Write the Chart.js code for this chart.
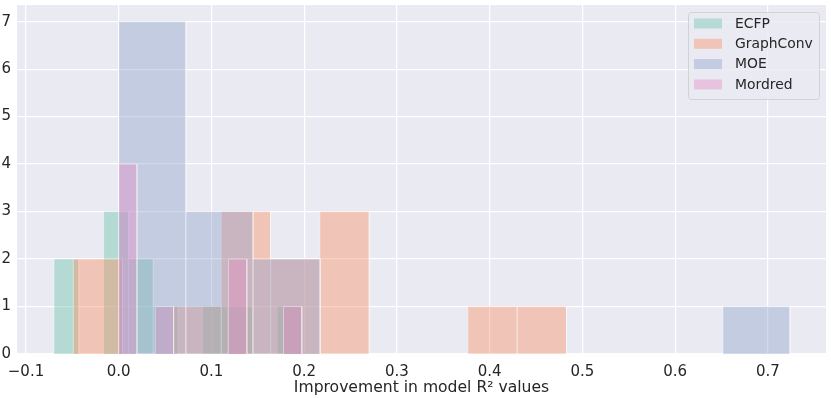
<!DOCTYPE html>
<html>
<head>
<meta charset="utf-8">
<script src="https://cdn.jsdelivr.net/npm/chart.js@4.4.1/dist/chart.umd.min.js"></script>
<style>
  html, body { margin: 0; padding: 0; background: #ffffff; }
  #wrap { width: 831px; height: 398px; }
</style>
</head>
<body>
<div id="wrap"><canvas id="hist" width="831" height="398"></canvas></div>
<script>
// series names
var seriesNames = ['ECFP', 'GraphConv', 'MOE', 'Mordred'];

// bin edges (10 bins each)
var ecfpEdges = [-0.0698, -0.0430, -0.0163, 0.0105, 0.0372, 0.0640, 0.0907, 0.1175, 0.1442, 0.1710, 0.1977];
var graphConvEdges = [-0.0490, 0.0042, 0.0574, 0.1106, 0.1638, 0.2169, 0.2701, 0.3233, 0.3765, 0.4297, 0.4828];
var moeEdges = [0.0000, 0.0724, 0.1448, 0.2172, 0.2896, 0.3620, 0.4344, 0.5068, 0.5792, 0.6516, 0.7238];
var mordredEdges = [0.0000, 0.0197, 0.0395, 0.0592, 0.0790, 0.0987, 0.1184, 0.1382, 0.1579, 0.1777, 0.1974];

// counts per bin
var ecfpCounts = [2, 0, 3, 2, 1, 0, 1, 1, 0, 1];
var graphConvCounts = [2, 0, 1, 3, 2, 3, 0, 0, 1, 1];
var moeCounts = [7, 3, 2, 0, 0, 0, 0, 0, 0, 1];
var mordredCounts = [4, 0, 1, 0, 0, 0, 2, 0, 0, 1];

// tick labels
var xTickValues = [-0.1, 0.0, 0.1, 0.2, 0.3, 0.4, 0.5, 0.6, 0.7];
var yTickValues = [0, 1, 2, 3, 4, 5, 6, 7];

var colors = [
  'rgba(102,194,165,0.4)',
  'rgba(252,141,98,0.4)',
  'rgba(141,160,203,0.4)',
  'rgba(231,138,195,0.4)'
];

// turn edges + counts into a step outline so each bin is a filled bar
function histPoints(edges, counts) {
  var pts = [];
  for (var i = 0; i < counts.length; i++) {
    pts.push({x: edges[i], y: 0});
    pts.push({x: edges[i], y: counts[i]});
    pts.push({x: edges[i + 1], y: counts[i]});
    pts.push({x: edges[i + 1], y: 0});
  }
  return pts;
}

var allEdges = [ecfpEdges, graphConvEdges, moeEdges, mordredEdges];
var allCounts = [ecfpCounts, graphConvCounts, moeCounts, mordredCounts];

var datasets = [];
for (var s = 0; s < seriesNames.length; s++) {
  datasets.push({
    label: seriesNames[s],
    data: histPoints(allEdges[s], allCounts[s]),
    backgroundColor: colors[s],
    borderColor: 'rgba(255,255,255,0.4)',
    borderWidth: 1,
    fill: 'origin',
    pointRadius: 0,
    tension: 0,
    order: seriesNames.length - s   // first series drawn at the bottom
  });
}

var fontFamily = "'DejaVu Sans', sans-serif";
var textColor = '#262626';

// grey plot background
var bgPlugin = {
  id: 'plotBg',
  beforeDraw: function(chart) {
    var a = chart.chartArea, ctx = chart.ctx;
    ctx.save();
    ctx.fillStyle = '#eaeaf2';
    ctx.fillRect(a.left, a.top, a.right - a.left, a.bottom - a.top);
    ctx.restore();
  }
};

// matplotlib style legend box in the upper right
var legendPlugin = {
  id: 'boxLegend',
  afterDraw: function(chart) {
    var a = chart.chartArea, ctx = chart.ctx;
    var w = 131, h = 87;
    var x0 = a.right - 7 - w, y0 = a.top + 7;
    ctx.save();
    ctx.beginPath();
    ctx.roundRect(x0 + 0.5, y0 + 0.5, w, h, 3);
    ctx.fillStyle = 'rgba(234,234,242,0.8)';
    ctx.fill();
    ctx.strokeStyle = 'rgba(204,204,204,0.8)';
    ctx.lineWidth = 1;
    ctx.stroke();
    ctx.font = '13.9px ' + fontFamily;
    ctx.textBaseline = 'middle';
    ctx.textAlign = 'left';
    chart.data.datasets.forEach(function(ds, i) {
      var cy = y0 + 11.5 + i * 20.3;
      ctx.fillStyle = ds.backgroundColor;
      ctx.fillRect(x0 + 6, cy - 5, 28, 10);
      ctx.fillStyle = textColor;
      ctx.fillText(ds.label, x0 + 47, cy + 0.5);
    });
    ctx.restore();
  }
};

function fmtX(v) {
  return v.toFixed(1).replace('-', '\u2212');
}

var chart = new Chart(document.getElementById('hist').getContext('2d'), {
  type: 'line',
  data: { datasets: datasets },
  options: {
    responsive: false,
    animation: false,
    devicePixelRatio: 1,
    layout: { padding: { top: 5, right: 5, left: 0, bottom: 0 } },
    plugins: {
      legend: { display: false },
      tooltip: { enabled: false }
    },
    scales: {
      x: {
        type: 'linear',
        min: -0.1097,
        max: 0.7627,
        afterBuildTicks: function(scale) {
          scale.ticks = xTickValues.map(function(v) { return {value: v}; });
        },
        afterFit: function(scale) {
          scale.height = 44;
          scale.paddingLeft = 0;
          scale.paddingRight = 0;
        },
        grid: { color: '#ffffff', lineWidth: 1.2, drawTicks: false },
        border: { display: false },
        ticks: {
          color: textColor,
          padding: 9,
          maxRotation: 0,
          font: { family: fontFamily, size: 15 },
          callback: function(v) { return fmtX(v); }
        },
        title: {
          display: true,
          text: 'Improvement in model R\u00b2 values',
          color: textColor,
          font: { family: fontFamily, size: 15.6 },
          padding: { top: 0, bottom: 1 }
        }
      },
      y: {
        min: 0,
        max: 7.35,
        afterBuildTicks: function(scale) {
          scale.ticks = yTickValues.map(function(v) { return {value: v}; });
        },
        afterFit: function(scale) {
          scale.width = 17;
          scale.paddingTop = 0;
          scale.paddingBottom = 0;
        },
        grid: { color: '#ffffff', lineWidth: 1.2, drawTicks: false },
        border: { display: false },
        ticks: {
          color: textColor,
          padding: 6,
          font: { family: fontFamily, size: 15 }
        }
      }
    }
  },
  plugins: [bgPlugin, legendPlugin]
});
</script>
</body>
</html>
